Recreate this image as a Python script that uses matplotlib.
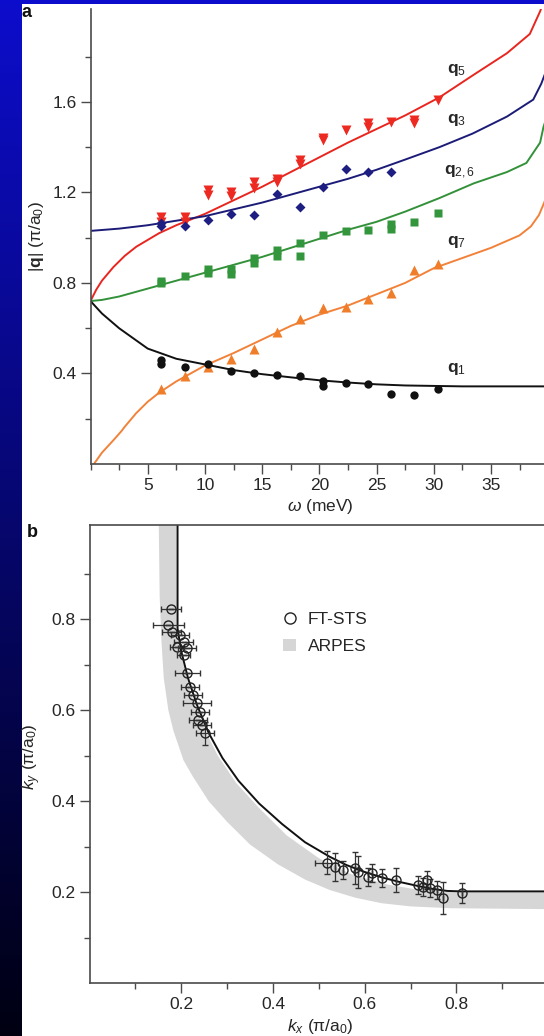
import matplotlib
matplotlib.use('Agg')
import matplotlib.pyplot as plt
import numpy as np
from matplotlib.patches import Rectangle, Patch
from matplotlib.lines import Line2D
from matplotlib.ticker import MultipleLocator

plt.rcParams['font.family'] = ['Liberation Sans', 'DejaVu Sans']
plt.rcParams['mathtext.fontset'] = 'custom'
plt.rcParams['mathtext.rm'] = 'Liberation Sans'
plt.rcParams['mathtext.it'] = 'Liberation Sans:italic'
plt.rcParams['mathtext.bf'] = 'Liberation Sans:bold'

W, H = 544, 1036
FS = 12.5

# ---- panel a: model curves, omega (meV) vs |q| (pi/a0)
w_q1 = [0, 1, 2.5, 5, 7.5, 10, 12.5, 15, 17.5, 20, 22.5, 25, 27.5, 30, 32.5, 40]
q1 = [0.72, 0.665, 0.60, 0.51, 0.465, 0.44, 0.415, 0.397, 0.383, 0.37, 0.36,
      0.352, 0.347, 0.345, 0.343, 0.343]

w_q3 = [0, 2.5, 5, 7.5, 10, 12.5, 15, 17.5, 20, 22.5, 25, 27.5, 30.5, 33.4,
        36.4, 38.7, 39.4, 40]
q3 = [1.03, 1.04, 1.055, 1.075, 1.095, 1.125, 1.155, 1.19, 1.225, 1.26, 1.30,
      1.345, 1.40, 1.46, 1.535, 1.61, 1.68, 1.76]

w_q5 = [0, 0.5, 1, 2, 3, 4, 5, 6, 7.5, 9, 10, 12.5, 15, 17.5, 20, 22.5, 25,
        27.5, 30.5, 33.5, 36.4, 38.4, 39.3, 40]
q5 = [0.72, 0.77, 0.81, 0.87, 0.92, 0.96, 0.99, 1.02, 1.055, 1.085, 1.105,
      1.165, 1.225, 1.29, 1.355, 1.42, 1.48, 1.54, 1.62, 1.72, 1.815, 1.90,
      2.0, 2.1]

w_q26 = [0, 1, 2.5, 5, 7.5, 10, 12.5, 15, 17.5, 20, 22.5, 25, 27.5, 30.5,
         33.5, 36.4, 38.1, 39.3, 39.6, 40]
q26 = [0.72, 0.725, 0.74, 0.775, 0.81, 0.845, 0.88, 0.915, 0.955, 0.995,
       1.035, 1.07, 1.115, 1.175, 1.24, 1.29, 1.33, 1.42, 1.49, 1.55]

w_q7 = [0.3, 1, 2, 2.7, 3, 4, 5, 6, 7.5, 10, 12.5, 15, 17.5, 20, 22.5, 25,
        27.5, 30, 32.5, 35, 37.5, 38.5, 39.2, 39.7, 40]
q7 = [0.0, 0.05, 0.105, 0.145, 0.165, 0.225, 0.275, 0.315, 0.365, 0.435, 0.49,
      0.55, 0.61, 0.66, 0.70, 0.75, 0.80, 0.865, 0.91, 0.955, 1.01, 1.05,
      1.10, 1.16, 1.22]

# ---- panel a: measured points
pw_q5 = [6.2, 6.2, 8.3, 8.3, 10.3, 10.3, 12.3, 12.3, 14.3, 14.3, 16.3, 16.3,
         18.3, 18.3, 20.3, 20.3, 22.3, 24.3, 24.3, 26.3, 28.3, 28.3, 30.4]
pq_q5 = [1.09, 1.07, 1.09, 1.07, 1.21, 1.19, 1.20, 1.185, 1.245, 1.22, 1.26,
         1.245, 1.345, 1.325, 1.44, 1.43, 1.475, 1.505, 1.49, 1.51, 1.52,
         1.505, 1.61]

pw_q3 = [6.2, 6.2, 8.3, 10.3, 12.3, 14.3, 16.3, 18.3, 20.3, 22.3, 24.3, 26.3]
pq_q3 = [1.05, 1.065, 1.05, 1.08, 1.105, 1.10, 1.195, 1.135, 1.225, 1.305,
         1.29, 1.29]

pw_q26 = [6.2, 6.2, 8.3, 10.3, 10.3, 12.3, 12.3, 14.3, 14.3, 16.3, 16.3,
          18.3, 18.3, 20.3, 22.3, 24.3, 26.3, 26.3, 28.3, 30.4]
pq_q26 = [0.80, 0.81, 0.83, 0.845, 0.86, 0.84, 0.86, 0.89, 0.91, 0.92, 0.945,
          0.92, 0.975, 1.01, 1.03, 1.035, 1.04, 1.06, 1.07, 1.11]

pw_q7 = [6.2, 8.3, 10.3, 12.3, 14.3, 16.3, 18.3, 20.3, 22.3, 24.3, 26.3,
         28.3, 30.4]
pq_q7 = [0.33, 0.39, 0.43, 0.465, 0.51, 0.585, 0.64, 0.69, 0.695, 0.73,
         0.755, 0.855, 0.885]

pw_q1 = [6.2, 6.2, 8.3, 10.3, 12.3, 14.3, 16.3, 18.3, 20.3, 20.3, 22.3, 24.3,
         26.3, 28.3, 30.4]
pq_q1 = [0.46, 0.44, 0.43, 0.44, 0.41, 0.40, 0.395, 0.39, 0.365, 0.345, 0.36,
         0.355, 0.31, 0.305, 0.33]

curve_labels = ['$\\mathbf{q}_5$', '$\\mathbf{q}_3$', '$\\mathbf{q}_{2,6}$',
                '$\\mathbf{q}_7$', '$\\mathbf{q}_1$']
label_w = [31.2, 31.2, 30.9, 31.2, 31.2]
label_q = [1.74, 1.52, 1.29, 0.98, 0.42]

# ---- panel b: Fermi surface
kx_line = [0.192, 0.192, 0.20, 0.215, 0.235, 0.26, 0.29, 0.325, 0.37, 0.42,
           0.47, 0.524, 0.56, 0.599, 0.64, 0.675, 0.72, 0.751, 0.78, 0.81, 1.0]
ky_line = [1.01, 0.78, 0.73, 0.67, 0.61, 0.55, 0.495, 0.445, 0.395, 0.35,
           0.31, 0.278, 0.26, 0.245, 0.232, 0.223, 0.213, 0.207, 0.203, 0.202,
           0.202]

arpes_out_kx = [0.151, 0.153, 0.157, 0.162, 0.172, 0.183, 0.205, 0.225, 0.26,
                0.30, 0.35, 0.41, 0.47, 0.524, 0.58, 0.637, 0.70, 0.788, 1.0]
arpes_out_ky = [1.01, 0.85, 0.75, 0.67, 0.60, 0.555, 0.49, 0.455, 0.40, 0.355,
                0.305, 0.262, 0.228, 0.205, 0.188, 0.176, 0.169, 0.165, 0.163]
arpes_in_kx = [0.19, 0.19, 0.20, 0.22, 0.25, 0.28, 0.32, 0.37, 0.43, 0.50,
               0.57, 0.65, 0.72, 0.80, 1.0]
arpes_in_ky = [1.01, 0.78, 0.72, 0.64, 0.56, 0.50, 0.44, 0.385, 0.325, 0.275,
               0.24, 0.217, 0.205, 0.20, 0.20]

sts_kx = [0.177, 0.172, 0.179, 0.197, 0.205, 0.19, 0.212, 0.205, 0.213, 0.219,
          0.226, 0.234, 0.241, 0.237, 0.245, 0.252,
          0.517, 0.535, 0.553, 0.579, 0.586, 0.608, 0.615, 0.637, 0.668, 0.717,
          0.728, 0.735, 0.742, 0.757, 0.771, 0.812]
sts_ky = [0.822, 0.787, 0.773, 0.765, 0.751, 0.74, 0.736, 0.722, 0.681, 0.652,
          0.634, 0.615, 0.597, 0.579, 0.568, 0.549,
          0.265, 0.256, 0.249, 0.253, 0.245, 0.234, 0.242, 0.231, 0.227, 0.216,
          0.212, 0.227, 0.209, 0.205, 0.187, 0.198]
sts_xerr = [0.022, 0.033, 0.02, 0.02, 0.02, 0.015, 0.02, 0.015, 0.027, 0.02,
            0.02, 0.03, 0.02, 0.02, 0.02, 0.02,
            0.025, 0, 0, 0, 0, 0, 0, 0, 0, 0, 0, 0, 0, 0, 0, 0]
sts_yerr = [0, 0, 0, 0, 0, 0, 0, 0, 0, 0, 0, 0, 0, 0, 0, 0.026,
            0.025, 0.031, 0.02, 0.035, 0.035, 0.02, 0.02, 0.02, 0.027, 0.02,
            0.02, 0.02, 0.02, 0.02, 0.035, 0.022]


def fx(px):
    return px / W


def fy(py):
    return 1 - py / H


fig = plt.figure(figsize=(W / 100, H / 100), dpi=100)

# blue gradient frame behind the white page
bg = fig.add_axes([0, 0, 1, 1], zorder=-10)
bg.axis('off')
t = np.linspace(0, 1, 256)[:, None]
top = np.array([0.05, 0.05, 0.80])
bot = np.array([0.0, 0.0, 0.07])
img = (top * (1 - t) + bot * t)[:, None, :]
bg.imshow(img, aspect='auto', extent=[0, 1, 0, 1])
fig.add_artist(Rectangle((fx(22), 0), 1 - fx(22), fy(4), transform=fig.transFigure,
                         facecolor='white', edgecolor='none', zorder=-5))

spine_c = '#4a4a4a'
txt_c = '#262626'


def style(ax):
    for s in ax.spines.values():
        s.set_color(spine_c)
        s.set_linewidth(1.2)
    ax.tick_params(which='both', direction='out', color=spine_c, width=1.0,
                   labelcolor=txt_c, labelsize=FS, pad=3)
    ax.tick_params(which='major', length=7)
    ax.tick_params(which='minor', length=4.5)


# ---- panel a
ax = fig.add_axes([fx(90.5), fy(464), 457.6 / W, 454.9 / H])
ax.plot(w_q5, q5, color='#e8261f', lw=1.4)
ax.plot(w_q3, q3, color='#1c1c78', lw=1.4)
ax.plot(w_q26, q26, color='#33913a', lw=1.4)
ax.plot(w_q7, q7, color='#f2823a', lw=1.4)
ax.plot(w_q1, q1, color='#111111', lw=1.4)
ax.plot(pw_q5, pq_q5, 'v', color='#ec2a22', ms=7.5, mec='none')
ax.plot(pw_q3, pq_q3, 'D', color='#1e1e82', ms=5, mec='none')
ax.plot(pw_q26, pq_q26, 's', color='#34963c', ms=5.5, mec='none')
ax.plot(pw_q7, pq_q7, '^', color='#f07d2a', ms=7, mec='none')
ax.plot(pw_q1, pq_q1, 'o', color='#111111', ms=6, mec='none')
for lab, lw_, lq in zip(curve_labels, label_w, label_q):
    ax.text(lw_, lq, lab, fontsize=FS, color=txt_c, ha='left', va='center')
ax.set_xlim(0, 40)
ax.set_ylim(0, 2.01)
ax.set_xticks([5, 10, 15, 20, 25, 30, 35])
ax.xaxis.set_minor_locator(MultipleLocator(2.5))
ax.set_yticks([0.4, 0.8, 1.2, 1.6])
ax.set_yticks([0.2, 0.6, 1.0, 1.4, 1.8], minor=True)
ax.yaxis.set_major_formatter(plt.FormatStrFormatter('%.1f'))
ax.spines['top'].set_visible(False)
style(ax)

# ---- panel b
bx = fig.add_axes([fx(89.5), fy(983.3), 458.6 / W, 458.2 / H])
bx.fill(arpes_out_kx + arpes_in_kx[::-1], arpes_out_ky + arpes_in_ky[::-1],
        color='#d6d6d6', lw=0)
bx.plot(kx_line, ky_line, color='#111111', lw=1.4)
bx.errorbar(sts_kx, sts_ky, xerr=sts_xerr, yerr=sts_yerr, fmt='o', ms=6.5,
            mfc='none', mec='#222222', mew=1.0, ecolor='#333333',
            elinewidth=0.9, capsize=2.5, capthick=0.9)
bx.set_xlim(0, 1.0)
bx.set_ylim(0, 1.007)
bx.set_xticks([0.2, 0.4, 0.6, 0.8])
bx.set_xticks([0.1, 0.3, 0.5, 0.7, 0.9], minor=True)
bx.set_yticks([0.2, 0.4, 0.6, 0.8])
bx.set_yticks([0.1, 0.3, 0.5, 0.7, 0.9], minor=True)
style(bx)
handles = [Line2D([], [], marker='o', ls='none', mfc='none', mec='#222222',
                  mew=1.0, ms=8),
           Patch(facecolor='#d6d6d6', edgecolor='none')]
bx.legend(handles, ['FT-STS', 'ARPES'], loc='upper left',
          bbox_to_anchor=(0.423, 0.811), frameon=False, fontsize=FS,
          handlelength=0.7, handletextpad=0.7, labelspacing=0.7,
          borderpad=0, borderaxespad=0, labelcolor=txt_c)

# labels
fig.text(fx(36), fy(237), '|$\\mathbf{q}$| (π/a$_0$)', rotation=90,
         ha='center', va='center', fontsize=FS, color=txt_c)
fig.text(fx(320), fy(506), '$\\omega$ (meV)', ha='center', va='center',
         fontsize=FS, color=txt_c)
fig.text(fx(32), fy(757), '$k_y$ (π/a$_0$)', rotation=90,
         ha='center', va='center', fontsize=FS, color=txt_c)
fig.text(fx(320), fy(1027), '$k_x$ (π/a$_0$)', ha='center', va='center',
         fontsize=FS, color=txt_c)
fig.text(fx(22), fy(4), 'a', fontsize=13, fontweight='bold', color='#111111',
         ha='left', va='top')
fig.text(fx(27), fy(524), 'b', fontsize=13, fontweight='bold', color='#111111',
         ha='left', va='top')

fig.savefig('out.png', dpi=100)
